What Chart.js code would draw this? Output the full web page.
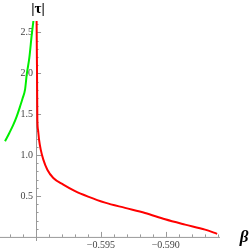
<!DOCTYPE html>
<html lang="en">
<head>
<meta charset="UTF-8">
<title>tau vs beta</title>
<script src="https://cdn.jsdelivr.net/npm/chart.js@4.4.0/dist/chart.umd.min.js"></script>
<style>
  html, body { margin: 0; padding: 0; background: #fff; }
  .box { width: 250px; height: 250px; position: relative; }
</style>
</head>
<body>
<div class="box"><canvas id="c"></canvas></div>
<script>
// values
var redBeta = [-0.59996, -0.59993, -0.59990, -0.59985, -0.59977, -0.59964, -0.59944, -0.59913, -0.59867, -0.59790, -0.59699, -0.59599, -0.59468, -0.59314, -0.59160, -0.59005, -0.58851, -0.58697, -0.58604];
var redTau  = [2.66, 2.10, 1.434, 1.312, 1.189, 1.067, 0.945, 0.822, 0.721, 0.639, 0.560, 0.493, 0.419, 0.355, 0.293, 0.215, 0.150, 0.089, 0.037];
var greenBeta = [-0.60019, -0.60033, -0.60052, -0.60072, -0.60085, -0.60103, -0.60123, -0.60149, -0.60175, -0.60206, -0.60239];
var greenTau  = [2.66, 2.476, 2.188, 1.983, 1.800, 1.699, 1.597, 1.474, 1.373, 1.271, 1.169];

var xMajor = [-0.595, -0.590];
var xMinor = [-0.602, -0.601, -0.599, -0.598, -0.597, -0.596, -0.594, -0.593, -0.592, -0.591, -0.589, -0.588, -0.587, -0.586];
var yMajor = [0.5, 1.0, 1.5, 2.0, 2.5];
var yMinor = [0.1, 0.2, 0.3, 0.4, 0.6, 0.7, 0.8, 0.9, 1.1, 1.2, 1.3, 1.4, 1.6, 1.7, 1.8, 1.9, 2.1, 2.2, 2.3, 2.4, 2.6];
var xCross = -0.6, yCross = 0;

function pts(xs, ys) {
  return xs.map(function (x, i) { return { x: x, y: ys[i] }; });
}

// mathematica style axes crossing at (-0.6, 0)
var axesPlugin = {
  id: 'axes',
  beforeDatasetsDraw: function (chart) {
    var ctx = chart.ctx, xs = chart.scales.x, ys = chart.scales.y, a = chart.chartArea;
    var x0 = xs.getPixelForValue(xCross), y0 = ys.getPixelForValue(yCross);
    ctx.save();
    ctx.strokeStyle = '#999';
    ctx.lineWidth = 1;
    ctx.beginPath();
    ctx.moveTo(a.left, y0 + 0.5); ctx.lineTo(a.right, y0 + 0.5);
    ctx.moveTo(Math.round(x0) + 0.5, a.top); ctx.lineTo(Math.round(x0) + 0.5, a.bottom);
    xMajor.forEach(function (v) {
      var p = Math.round(xs.getPixelForValue(v)) + 0.5;
      ctx.moveTo(p, y0); ctx.lineTo(p, y0 - 5);
    });
    xMinor.forEach(function (v) {
      var p = Math.round(xs.getPixelForValue(v)) + 0.5;
      ctx.moveTo(p, y0); ctx.lineTo(p, y0 - 2.5);
    });
    yMajor.forEach(function (v) {
      var p = Math.round(ys.getPixelForValue(v)) + 0.5;
      ctx.moveTo(x0, p); ctx.lineTo(x0 + 5, p);
    });
    yMinor.forEach(function (v) {
      var p = Math.round(ys.getPixelForValue(v)) + 0.5;
      ctx.moveTo(x0, p); ctx.lineTo(x0 + 2.5, p);
    });
    ctx.stroke();

    ctx.fillStyle = '#444';
    ctx.font = '10px "Liberation Serif", "DejaVu Serif", serif';
    ctx.textAlign = 'center';
    ctx.textBaseline = 'top';
    xMajor.forEach(function (v) {
      ctx.fillText('\u2212' + Math.abs(v).toFixed(3), xs.getPixelForValue(v), y0 + 3);
    });
    ctx.textAlign = 'right';
    ctx.textBaseline = 'middle';
    yMajor.forEach(function (v) {
      ctx.fillText(v.toFixed(1), x0 - 3, ys.getPixelForValue(v));
    });

    ctx.fillStyle = '#000';
    ctx.textAlign = 'center';
    ctx.font = 'bold 15px "Liberation Serif", "DejaVu Serif", serif';
    ctx.fillText('|\u03c4|', x0 + 2, 9);
    ctx.font = 'bold italic 17px "Liberation Serif", "DejaVu Serif", serif';
    ctx.fillText('\u03b2', 244, y0 + 1);
    ctx.restore();
  }
};

new Chart(document.getElementById('c'), {
  type: 'scatter',
  data: {
    datasets: [
      { data: pts(redBeta, redTau), borderColor: '#ff0000', borderWidth: 2, showLine: true, pointRadius: 0, cubicInterpolationMode: 'monotone' },
      { data: pts(greenBeta, greenTau), borderColor: '#00ee00', borderWidth: 2, showLine: true, pointRadius: 0, cubicInterpolationMode: 'monotone' }
    ]
  },
  options: {
    responsive: true,
    maintainAspectRatio: false,
    animation: false,
    layout: { padding: { left: 0, right: 30, top: 21, bottom: 9 } },
    plugins: { legend: { display: false }, tooltip: { enabled: false } },
    scales: {
      x: { type: 'linear', min: -0.60278, max: -0.58582, display: false },
      y: { type: 'linear', min: -0.05, max: 2.64, display: false }
    }
  },
  plugins: [axesPlugin]
});
</script>
</body>
</html>
